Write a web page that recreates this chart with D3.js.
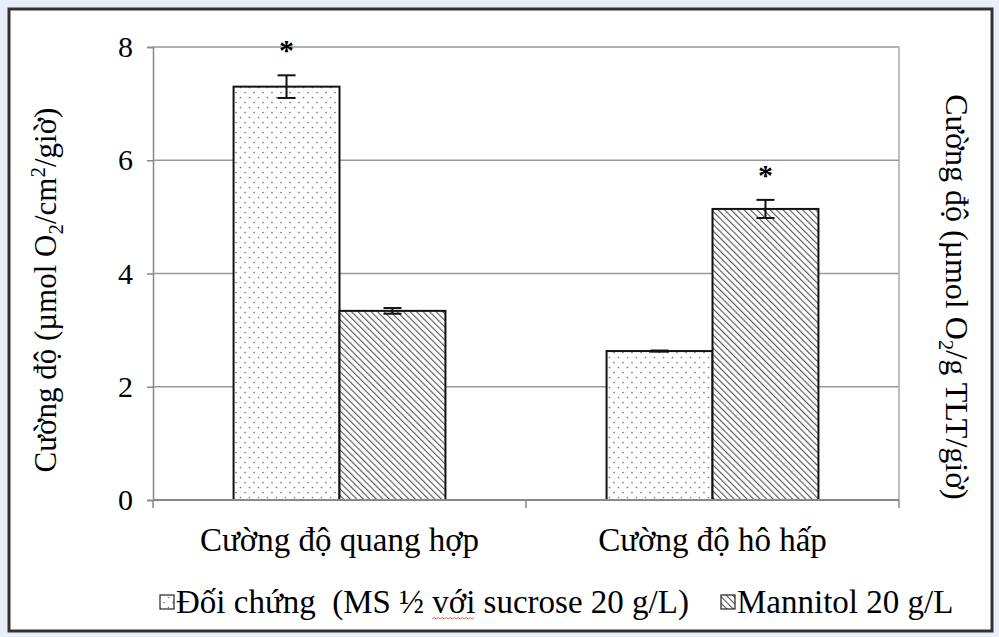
<!DOCTYPE html>
<html>
<head>
<meta charset="utf-8">
<script src="https://cdn.jsdelivr.net/npm/d3@7"></script>
<style>
  body { margin: 0; background: #e9eef8; }
  svg text { font-family: 'Liberation Serif', 'Times New Roman', serif; fill: #000; white-space: pre; }
</style>
</head>
<body>
<svg id="chart" width="999" height="637"></svg>
<script>
const categories = ['Cường độ quang hợp', 'Cường độ hô hấp']
const seriesNames = ['Đối chứng  (MS ½ với sucrose 20 g/L)', 'Mannitol 20 g/L']
const controlValues = [7.3, 2.63]
const controlErrors = [0.2, 0.01]
const mannitolValues = [3.34, 5.14]
const mannitolErrors = [0.05, 0.16]
const starred = [[true, false], [false, true]]
const yTicks = [0, 2, 4, 6, 8]

const svg = d3.select('#chart')

// frame
svg.append('rect').attr('x', 9).attr('y', 9).attr('width', 983).attr('height', 622)
  .attr('fill', '#fff').attr('stroke', '#333').attr('stroke-width', 3)

const defs = svg.append('defs')
const dots = defs.append('pattern').attr('id', 'dots').attr('patternUnits', 'userSpaceOnUse')
  .attr('width', 9).attr('height', 10)
dots.append('rect').attr('width', 9).attr('height', 10).attr('fill', '#fff')
dots.append('circle').attr('cx', 2).attr('cy', 2.5).attr('r', 0.85).attr('fill', '#777')
dots.append('circle').attr('cx', 6.5).attr('cy', 7.5).attr('r', 0.85).attr('fill', '#777')

const hatch = defs.append('pattern').attr('id', 'hatch').attr('patternUnits', 'userSpaceOnUse')
  .attr('width', 4.6).attr('height', 4.6).attr('patternTransform', 'rotate(-45)')
hatch.append('rect').attr('width', 4.6).attr('height', 4.6).attr('fill', '#fff')
hatch.append('line').attr('x1', 0).attr('y1', 0).attr('x2', 0).attr('y2', 4.6)
  .attr('stroke', '#555').attr('stroke-width', 2.2)

const plotLeft = 153, plotRight = 899, plotTop = 47, plotBottom = 500

const y = d3.scaleLinear().domain([0, 8]).range([plotBottom, plotTop])
const x0 = d3.scaleBand().domain(categories).range([plotLeft, plotRight]).paddingInner(0.432).paddingOuter(0.216)
const x1 = d3.scaleBand().domain([0, 1]).range([0, x0.bandwidth()])

// gridlines
svg.append('g').selectAll('line').data(yTicks.filter(d => d > 0)).join('line')
  .attr('x1', plotLeft).attr('x2', plotRight).attr('y1', d => y(d)).attr('y2', d => y(d))
  .attr('stroke', '#999').attr('stroke-width', 1.5)

// right axis line
svg.append('line').attr('x1', plotRight).attr('x2', plotRight).attr('y1', plotTop).attr('y2', plotBottom)
  .attr('stroke', '#aaa').attr('stroke-width', 1.5)

// y axis
const yAxis = svg.append('g').attr('transform', `translate(${plotLeft},0)`)
  .call(d3.axisLeft(y).tickValues(yTicks).tickSize(6).tickPadding(14))
yAxis.select('.domain').attr('stroke', '#888').attr('stroke-width', 1.5)
yAxis.selectAll('.tick line').attr('stroke', '#888').attr('stroke-width', 1.5)
yAxis.selectAll('.tick text').attr('font-size', 30).attr('font-family', 'Liberation Serif')

const series = [
  { values: controlValues, errors: controlErrors, fill: 'url(#dots)' },
  { values: mannitolValues, errors: mannitolErrors, fill: 'url(#hatch)' },
]

const bars = []
categories.forEach((c, ci) => {
  series.forEach((s, si) => {
    bars.push({ c, ci, si, v: s.values[ci], e: s.errors[ci], fill: s.fill, star: starred[ci][si] })
  })
})

svg.append('g').selectAll('rect').data(bars).join('rect')
  .attr('x', d => x0(d.c) + x1(d.si))
  .attr('y', d => y(d.v))
  .attr('width', x1.bandwidth())
  .attr('height', d => y(0) - y(d.v))
  .attr('fill', d => d.fill)
  .attr('stroke', '#111').attr('stroke-width', 2)

// x axis
svg.append('line').attr('x1', plotLeft).attr('x2', plotRight).attr('y1', plotBottom).attr('y2', plotBottom)
  .attr('stroke', '#888').attr('stroke-width', 2)
const xTickPos = [plotLeft, (x0(categories[0]) + x0.bandwidth() + x0(categories[1])) / 2, plotRight]
svg.append('g').selectAll('line').data(xTickPos).join('line')
  .attr('x1', d => d).attr('x2', d => d).attr('y1', plotBottom).attr('y2', plotBottom + 8)
  .attr('stroke', '#888').attr('stroke-width', 1.5)

svg.append('g').selectAll('text').data(categories).join('text')
  .attr('x', d => x0(d) + x0.bandwidth() / 2).attr('y', 551)
  .attr('text-anchor', 'middle').attr('font-size', 33).text(d => d)

// error bars
const eb = svg.append('g').attr('stroke', '#111').attr('stroke-width', 2)
bars.forEach(d => {
  const cx = x0(d.c) + x1(d.si) + x1.bandwidth() / 2
  eb.append('line').attr('x1', cx).attr('x2', cx).attr('y1', y(d.v + d.e)).attr('y2', y(d.v - d.e))
  eb.append('line').attr('x1', cx - 9).attr('x2', cx + 9).attr('y1', y(d.v + d.e)).attr('y2', y(d.v + d.e))
  eb.append('line').attr('x1', cx - 9).attr('x2', cx + 9).attr('y1', y(d.v - d.e)).attr('y2', y(d.v - d.e))
})

svg.append('g').selectAll('text').data(bars.filter(d => d.star)).join('text')
  .attr('x', d => x0(d.c) + x1(d.si) + x1.bandwidth() / 2)
  .attr('y', d => y(d.v + d.e) - 15)
  .attr('text-anchor', 'middle').attr('font-size', 30).attr('font-weight', 'bold').text('*')

// axis titles
const lt = svg.append('text').attr('transform', 'translate(56,290) rotate(-90)')
  .attr('text-anchor', 'middle').attr('font-size', 31)
lt.append('tspan').text('Cường độ (µmol O')
lt.append('tspan').attr('font-size', 21).attr('dy', 7).text('2')
lt.append('tspan').attr('dy', -7).text('/cm')
lt.append('tspan').attr('font-size', 21).attr('dy', -11).text('2')
lt.append('tspan').attr('dy', 11).text('/giờ)')

const rt = svg.append('text').attr('transform', 'translate(946,297) rotate(90)')
  .attr('text-anchor', 'middle').attr('font-size', 32)
rt.append('tspan').text('Cường độ (µmol O')
rt.append('tspan').attr('font-size', 21).attr('dy', 7).text('2')
rt.append('tspan').attr('dy', -7).text('/g TLT/giờ)')

// legend
const lg = svg.append('g')
const legendX = [160, 721]
series.forEach((s, i) => {
  lg.append('rect').attr('x', legendX[i]).attr('y', 595).attr('width', 14).attr('height', 14)
    .attr('fill', s.fill).attr('stroke', '#222').attr('stroke-width', 1.2)
  const t = lg.append('text').attr('x', legendX[i] + 16).attr('y', 613).attr('font-size', 33).text(seriesNames[i])
  // spell-check squiggle under "với"
  const k = seriesNames[i].indexOf('với')
  if (k >= 0) {
    const node = t.node()
    const sx = legendX[i] + 16 + node.getSubStringLength(0, k)
    const w = node.getSubStringLength(k, 3)
    let p = `M${sx},619`
    for (let xx = sx + 2, up = true; xx <= sx + w; xx += 2, up = !up) p += `L${xx},${up ? 617.5 : 619}`
    lg.append('path').attr('d', p).attr('fill', 'none').attr('stroke', '#e33').attr('stroke-width', 0.8)
  }
})
</script>
</body>
</html>
